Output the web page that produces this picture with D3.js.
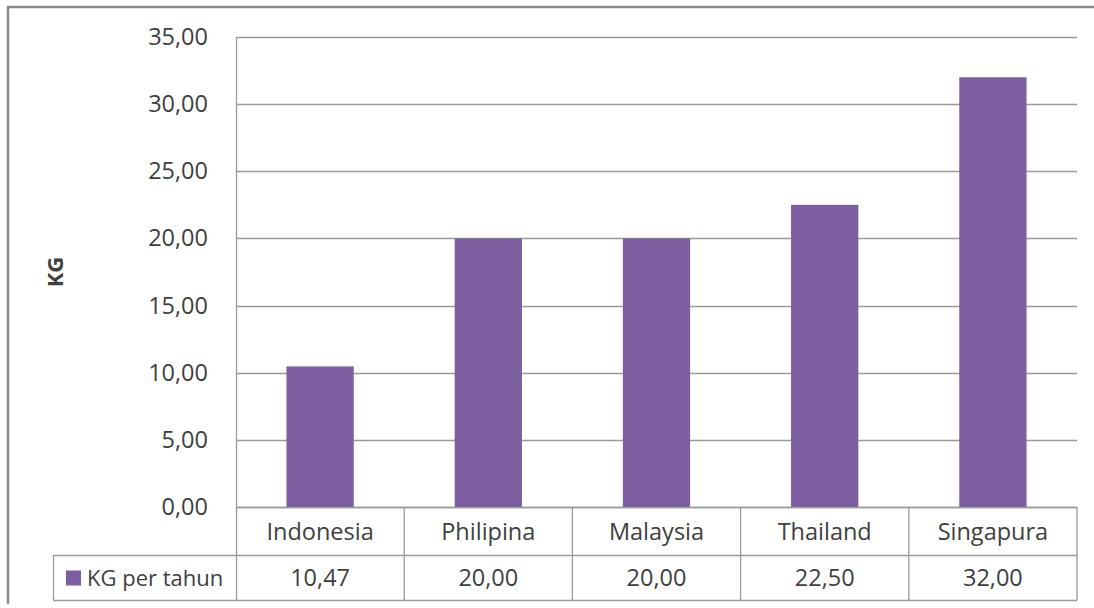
<!DOCTYPE html>
<html>
<head>
<meta charset="utf-8">
<script src="https://cdn.jsdelivr.net/npm/d3@7"></script>
<style>
  html, body { margin: 0; padding: 0; background: #fff; }
  svg text { font-family: "Open Sans", sans-serif; fill: #404040; }
</style>
</head>
<body>
<svg id="chart" width="1094" height="608"></svg>
<script>
// KG per tahun by country
const categories = ["Indonesia", "Philipina", "Malaysia", "Thailand", "Singapura"];
const values = [10.47, 20.00, 20.00, 22.50, 32.00];
const yTicks = [0, 5, 10, 15, 20, 25, 30, 35];
const seriesName = "KG per tahun";
const yTitle = "KG";

const svg = d3.select("#chart");
const fmt = v => d3.format(".2f")(v).replace(".", ",");

const plot = { left: 236, right: 1077, top: 37, bottom: 507 };
const rowH1 = 48, rowH2 = 45;
const legendLeft = 53;
const barColor = "#7d5ea0";
const gridColor = "#9a9a9a";
const fs = 23.5;

// outer frame
svg.append("path")
  .attr("d", "M8,604 L8,7 L1094,7")
  .attr("fill", "none").attr("stroke", "#8a8a8a").attr("stroke-width", 2.5);

const x = d3.scaleBand().domain(categories).range([plot.left, plot.right]).paddingInner(0.6).paddingOuter(0.3);
const xCell = d3.scaleBand().domain(categories).range([plot.left, plot.right]);
const y = d3.scaleLinear().domain([0, 35]).range([plot.bottom, plot.top]);

// horizontal gridlines
svg.append("g").selectAll("line").data(yTicks).join("line")
  .attr("x1", plot.left).attr("x2", plot.right)
  .attr("y1", d => Math.round(y(d)) + 0.5).attr("y2", d => Math.round(y(d)) + 0.5)
  .attr("stroke", gridColor).attr("stroke-width", 1.3);

// y axis labels
const yAxis = d3.axisLeft(y).tickValues(yTicks).tickFormat(fmt).tickSize(0).tickPadding(28);
const gy = svg.append("g").attr("transform", `translate(${plot.left},0)`).call(yAxis);
gy.select(".domain").remove();
gy.selectAll("text").attr("font-size", fs).style("font-family", "'Open Sans', sans-serif").attr("fill", "#404040");

// y axis line
svg.append("line")
  .attr("x1", plot.left + 0.5).attr("x2", plot.left + 0.5)
  .attr("y1", plot.top).attr("y2", plot.bottom + rowH1 + rowH2)
  .attr("stroke", gridColor).attr("stroke-width", 1.3);

// y title
svg.append("text")
  .attr("transform", `translate(63,${(plot.top + plot.bottom) / 2}) rotate(-90)`)
  .attr("text-anchor", "middle").attr("font-size", 22).attr("font-weight", "bold")
  .attr("fill", "#222").text(yTitle);

// bars
svg.append("g").selectAll("rect").data(categories).join("rect")
  .attr("x", d => x(d)).attr("width", x.bandwidth())
  .attr("y", (d, i) => y(values[i])).attr("height", (d, i) => y(0) - y(values[i]))
  .attr("fill", barColor);

// data table
const t = svg.append("g").attr("stroke", gridColor).attr("stroke-width", 1.3).attr("fill", "none");
const r1 = plot.bottom + rowH1, r2 = r1 + rowH2;
t.append("line").attr("x1", plot.left).attr("x2", plot.right).attr("y1", plot.bottom + 0.5).attr("y2", plot.bottom + 0.5);
t.append("line").attr("x1", legendLeft).attr("x2", plot.right).attr("y1", r1 + 0.5).attr("y2", r1 + 0.5);
t.append("line").attr("x1", legendLeft).attr("x2", plot.right).attr("y1", r2 + 0.5).attr("y2", r2 + 0.5);
t.append("line").attr("x1", legendLeft + 0.5).attr("x2", legendLeft + 0.5).attr("y1", r1).attr("y2", r2);
t.selectAll(".col").data(categories).join("line")
  .attr("x1", d => xCell(d) + xCell.bandwidth()).attr("x2", d => xCell(d) + xCell.bandwidth())
  .attr("y1", plot.bottom).attr("y2", r2);

// category labels
svg.append("g").selectAll("text").data(categories).join("text")
  .attr("x", d => xCell(d) + xCell.bandwidth() / 2).attr("y", plot.bottom + rowH1 / 2 + 8.5)
  .attr("text-anchor", "middle").attr("font-size", fs).text(d => d);

// value row
svg.append("g").selectAll("text").data(categories).join("text")
  .attr("x", d => xCell(d) + xCell.bandwidth() / 2).attr("y", r1 + rowH2 / 2 + 8.5)
  .attr("text-anchor", "middle").attr("font-size", fs).text((d, i) => fmt(values[i]));

// legend key
svg.append("rect").attr("x", 66).attr("y", r1 + rowH2 / 2 - 7).attr("width", 15).attr("height", 15).attr("fill", barColor);
svg.append("text").attr("x", 87).attr("y", r1 + rowH2 / 2 + 8).attr("font-size", 22).text(seriesName);
</script>
</body>
</html>
